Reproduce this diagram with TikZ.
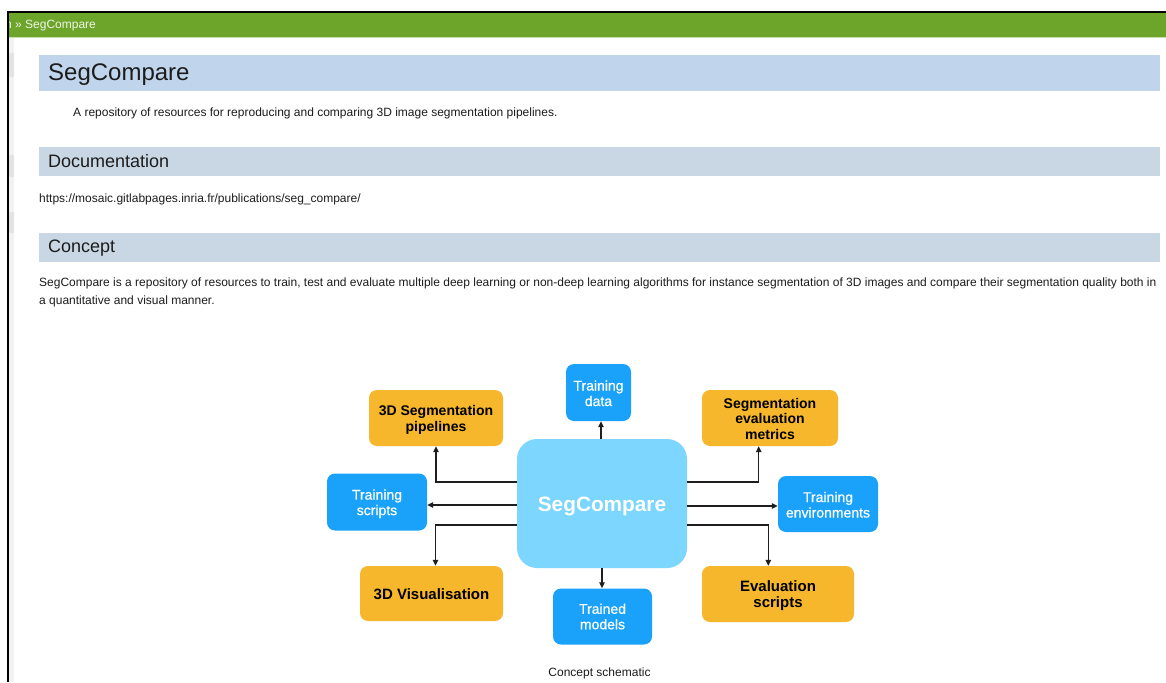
\documentclass[tikz,border=0pt]{standalone}
\usepackage{fontspec}
\setmainfont{Liberation Sans}
\newfontfamily\mediumsans[FakeBold=0.6]{Liberation Sans}
\usetikzlibrary{arrows.meta}

\definecolor{barGreen}{HTML}{6DA52B}
\definecolor{barLine}{HTML}{C9DDB3}
\definecolor{barText}{HTML}{EEF5E6}
\definecolor{hOneBand}{HTML}{C0D5EC}
\definecolor{hTwoBand}{HTML}{C9D7E5}
\definecolor{bodyText}{HTML}{1C1C1C}
\definecolor{sideStrip}{HTML}{F2F2F2}
\definecolor{sidePatch}{HTML}{E3E3E3}
\definecolor{boxBlue}{HTML}{1AA2FA}
\definecolor{boxOrange}{HTML}{F6B72C}
\definecolor{hubBlue}{HTML}{7CD6FD}
\definecolor{lineGray}{HTML}{1E1E1E}

% invisible strut on a box's first line: pushes its text down by #1
\newcommand{\txtdrop}[1]{\rule{0pt}{\dimexpr\fontcharht\font`d+#1*2\relax}}

\tikzset{
  txt/.style={inner sep=0pt, anchor=base west, text=bodyText,
              font=\fontsize{12}{14}\selectfont},
  hone/.style={txt, font=\fontsize{24}{28}\selectfont},
  htwo/.style={txt, font=\fontsize{18}{21}\selectfont},
  boxbase/.style={rounded corners=8pt, inner sep=0pt, align=center},
  bluebox/.style={boxbase, fill=boxBlue, text=white,
                  font=\mediumsans\fontsize{14}{15.5}\selectfont},
  orangebox/.style={boxbase, fill=boxOrange, text=black,
                    font=\bfseries\fontsize{14}{15.5}\selectfont},
  bigorange/.style={orangebox, font=\bfseries\fontsize{15}{16.5}\selectfont},
  hub/.style={boxbase, rounded corners=20pt, fill=hubBlue, text=white,
              font=\bfseries\fontsize{20.8}{24}\selectfont},
  link/.style={draw=lineGray, line width=1.1pt,
               -{Triangle[length=6pt,width=5.5pt]}},
}

\begin{document}
\begin{tikzpicture}[x=1pt,y=-1pt]
\useasboundingbox (0,0) rectangle (1166,682);
\fill[white] (0,0) rectangle (1166,682);

% window frame and breadcrumb bar
\fill[sideStrip] (9,38) rectangle (13.5,682);
\fill[sidePatch] (9,53) rectangle (13.5,77);
\fill[sidePatch] (9,155) rectangle (13.5,177);
\fill[sidePatch] (9,212) rectangle (13.5,233);
\fill[barGreen] (9,12.5) rectangle (1166,37);
\fill[barLine] (9,37) rectangle (1166,38.2);
\begin{scope}
  \clip (9.5,13) rectangle (1166,37);
  \node[txt, text=barText] (crumb) at (5,28.5) {n » SegCompare};
\end{scope}
\draw[black, line width=1.5pt] (8,12) -- (1166,12);
\draw[black, line width=2pt] (8,11.3) -- (8,682);

% title and section headings
\fill[hOneBand] (39,55) rectangle (1160,91);
\node[hone] (title) at (48,81) {SegCompare};
\node[txt] (summary) at (73,116.5) {A repository of resources for reproducing and comparing 3D image segmentation pipelines.};

\fill[hTwoBand] (39,147.3) rectangle (1160,176.3);
\node[htwo] (docs) at (48,167.7) {Documentation};
\node[txt] (url) at (39,202.6) {https://mosaic.gitlabpages.inria.fr/publications/seg\_compare/};

\fill[hTwoBand] (39,232.5) rectangle (1160,261.7);
\node[htwo] (concept) at (48,252.7) {Concept};
\node[txt] (paraA) at (39,286.7) {SegCompare is a repository of resources to train, test and evaluate multiple deep learning or non-deep learning algorithms for instance segmentation of 3D images and compare their segmentation quality both in};
\node[txt] (paraB) at (39,304.7) {a quantitative and visual manner.};

% concept schematic
\node[hub, minimum width=170pt, minimum height=129pt] (hub) at (602,503.5) {\txtdrop{3.5pt}SegCompare};

\node[bluebox, minimum width=65pt, minimum height=57pt] (tdata) at (598.5,392.5) {\txtdrop{1pt}Training\\data};
\node[orangebox, minimum width=134pt, minimum height=56pt] (segpipe) at (436,418) {\txtdrop{2pt}3D Segmentation\\pipelines};
\node[bluebox, minimum width=100pt, minimum height=57pt] (tscripts) at (377,502) {\txtdrop{2pt}Training\\scripts};
\node[orangebox, minimum width=136pt, minimum height=56pt] (segeval) at (770,418) {\txtdrop{1pt}Segmentation\\evaluation\\metrics};
\node[bluebox, minimum width=100pt, minimum height=56pt] (tenv) at (828,504) {\txtdrop{1pt}Training\\environments};
\node[bigorange, minimum width=143pt, minimum height=55pt] (vis) at (431.5,593.5) {\txtdrop{1pt}3D Visualisation};
\node[bluebox, minimum width=99pt, minimum height=56pt] (tmodels) at (602.5,616.5) {Trained\\models};
\node[bigorange, minimum width=152pt, minimum height=56pt] (evals) at (778,594) {\txtdrop{2pt}Evaluation\\scripts};

\draw[link] ([xshift=-1pt]hub.north) -- ([xshift=-1pt]hub.north |- tdata.south);
\draw[link] ([yshift=21.5pt]hub.west) -| (segpipe.south);
\draw[link] ([yshift=-1.5pt]hub.west) coordinate (hw) -- (hw -| tscripts.east);
\draw[link] ([yshift=-21.5pt]hub.west) -| ([xshift=4pt]vis.north);
\draw[link] ([yshift=21.5pt]hub.east) -| ([xshift=-11.3pt]segeval.south);
\draw[link] ([yshift=-2.5pt]hub.east) coordinate (he) -- (he -| tenv.west);
\draw[link] ([yshift=-21.5pt]hub.east) -| ([xshift=-9.7pt]evals.north);
\draw[link] (hub.south) -- (hub.south |- tmodels.north);

\node[txt, anchor=base] (caption) at (599.5,676) {Concept schematic};
\end{tikzpicture}
\end{document}
